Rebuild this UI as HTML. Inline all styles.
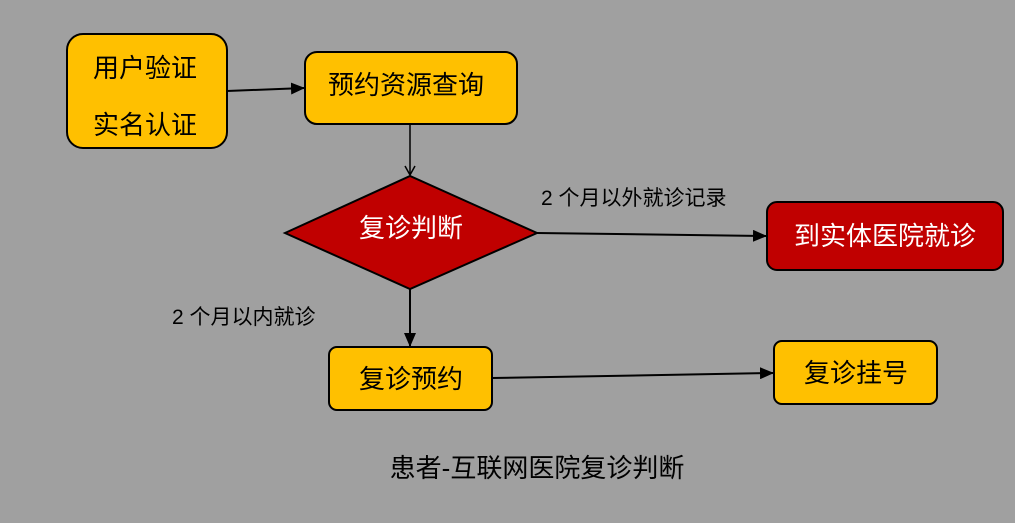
<!DOCTYPE html>
<html><head><meta charset="utf-8"><style>
body{margin:0;width:1015px;height:518px;background:#a0a0a0;overflow:hidden}
svg text{font-family:"Liberation Sans","Noto Sans CJK SC",sans-serif}
</style></head><body>
<svg width="1015" height="518" xmlns="http://www.w3.org/2000/svg">
<defs><marker id="a" markerWidth="14" markerHeight="12" refX="13" refY="6" orient="auto" markerUnits="userSpaceOnUse"><path d="M0,0 L14,6 L0,12 z" fill="#000"/></marker></defs>
<g stroke="#000" stroke-width="2">
<rect x="67" y="34" width="160" height="114" rx="16" fill="#ffc000"/>
<rect x="305" y="52" width="212" height="72" rx="12" fill="#ffc000"/>
<polygon points="285,233 410,176 537,233 410,289" fill="#c00000"/>
<rect x="767" y="202" width="236" height="68" rx="10" fill="#c00000"/>
<rect x="329" y="347" width="163" height="63" rx="8" fill="#ffc000"/>
<rect x="774" y="341" width="163" height="63" rx="8" fill="#ffc000"/>
</g>
<g stroke="#000" stroke-width="2" fill="none">
<line x1="227" y1="91" x2="304" y2="88" marker-end="url(#a)"/>
<line x1="410" y1="124" x2="410" y2="174" stroke-width="1.5"/>
<path d="M405,166 L410,175 L415,166" stroke-width="1.5"/>
<line x1="537" y1="233" x2="766" y2="236" marker-end="url(#a)"/>
<line x1="410" y1="289" x2="410" y2="346" marker-end="url(#a)"/>
<line x1="492" y1="378" x2="773" y2="373" marker-end="url(#a)"/>
</g>
<g font-size="26" fill="#000" text-anchor="middle">
<text x="145" y="77">用户验证</text>
<text x="145" y="134">实名认证</text>
<text x="406" y="94">预约资源查询</text>
<text x="411" y="237" fill="#fff">复诊判断</text>
<text x="885" y="245" fill="#fff">到实体医院就诊</text>
<text x="411" y="388">复诊预约</text>
<text x="856" y="382">复诊挂号</text>
</g>
<g font-size="21" fill="#000">
<text x="541" y="205">2 个月以外就诊记录</text>
<text x="172" y="324">2 个月以内就诊</text>
<text x="537" y="477" font-size="26" text-anchor="middle">患者-互联网医院复诊判断</text>
</g>
</svg>
</body></html>
